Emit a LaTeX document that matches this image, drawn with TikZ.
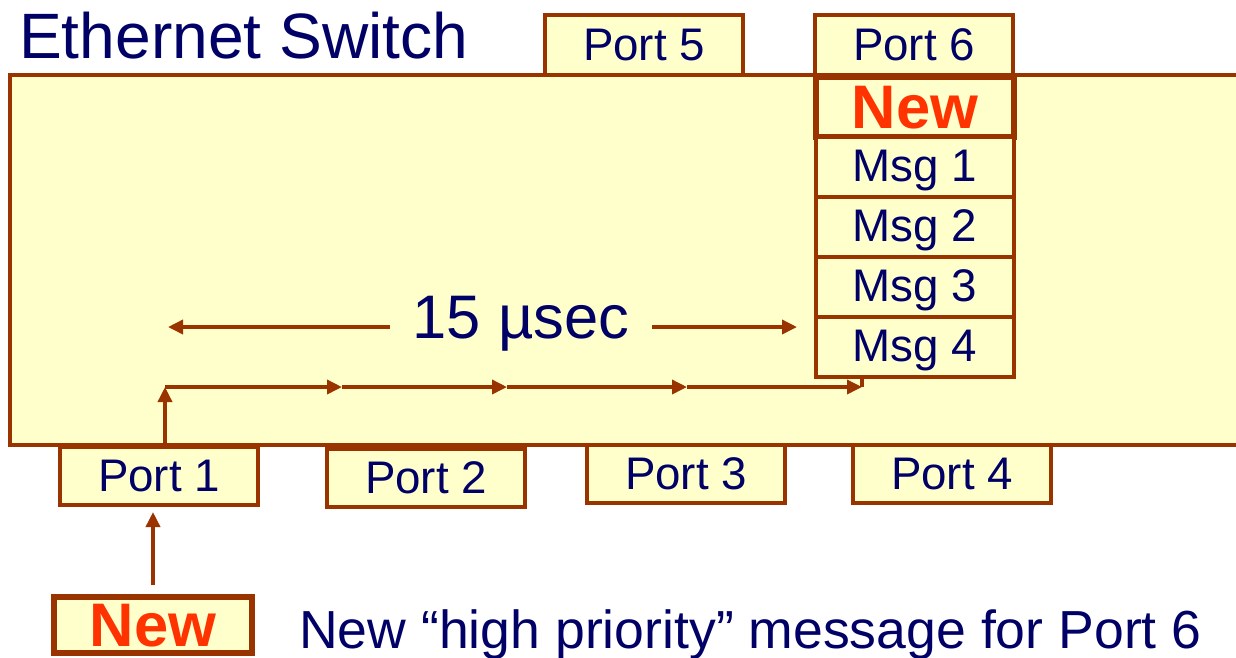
\documentclass[tikz,border=0pt]{standalone}
\usepackage{fontspec}
\setmainfont{Liberation Sans}
\usetikzlibrary{arrows.meta, positioning}
\definecolor{swline}{HTML}{993300}
\definecolor{swfill}{HTML}{FFFFCC}
\definecolor{swtext}{HTML}{000066}
\definecolor{swred}{HTML}{FF3300}

\begin{document}
\begin{tikzpicture}[x=0.02cm, y=-0.02cm,
  box/.style={rectangle, draw=swline, line width=2.2pt, fill=swfill, minimum width=3.96cm, minimum height=1.2cm, inner sep=0pt, outer sep=0pt, text=swtext, font=\fontsize{26}{30}\selectfont, text height=0.66cm, text depth=0.06cm},
  newbox/.style={box, line width=3pt, text=swred, font=\fontsize{35}{40}\selectfont\bfseries, text height=0.86cm, text depth=0.02cm},
  arr/.style={-{Triangle[length=3mm, width=2.8mm]}, draw=swline, fill=swline, line width=2pt},
  node distance=0pt]
\useasboundingbox (0,0) rectangle (1236,657);
\node[draw=swline, line width=2.2pt, fill=swfill, minimum width=24.7cm, minimum height=7.4cm] (switch) at (627,260) {};
\node[anchor=base west, text=swtext, font=\fontsize{36.5}{40}\selectfont] (title) at (13,58) {Ethernet Switch};
\node[box] (port5) at (644,45) {Port 5};
\node[box] (port6) at (914,45) {Port 6};
\node[newbox] (new6) at (915,107) {New};
\node[box, below=of new6] (msg1) {Msg 1};
\node[box, below=of msg1] (msg2) {Msg 2};
\node[box, below=of msg2] (msg3) {Msg 3};
\node[box, below=of msg3] (msg4) {Msg 4};
\node[box, minimum height=1.16cm] (port1) at (159,476) {Port 1};
\node[box, minimum height=1.16cm] (port2) at (426,478) {Port 2};
\node[box, minimum height=1.16cm] (port3) at (686,474) {Port 3};
\node[box, minimum height=1.16cm] (port4) at (952,474) {Port 4};
\node[newbox, minimum height=1.12cm] (new1) at (153,625) {New};
\node[anchor=base west, text=swtext, font=\fontsize{30.5}{34}\selectfont] (caption) at (293,648) {New “high priority” message for Port 6};
\node[text=swtext, font=\fontsize{35}{40}\selectfont, inner xsep=0.45cm] (span) at (521,324) {15 µsec};

\coordinate (spanl) at (168,327);
\coordinate (spanr) at (797,327);
\coordinate (in1) at (153,512);
\coordinate (turn) at (165,387);
\coordinate (m1) at (342,387);
\coordinate (m2) at (507,387);
\coordinate (m3) at (687,387);
\coordinate (tail) at (862,387);

\draw[arr] (span.west |- spanl) -- (spanl);
\draw[arr] (span.east |- spanr) -- (spanr);
\draw[arr] ([yshift=0.24cm]new1.north) -- (in1);
\draw[arr] (turn |- switch.south) -- (turn);
\draw[arr] (turn) -- (m1);
\draw[arr] (m1) -- (m2);
\draw[arr] (m2) -- (m3);
\draw[arr] (m3) -- (tail);
\draw[swline, line width=2pt] (tail |- msg4.south) -- (tail);
\end{tikzpicture}
\end{document}
